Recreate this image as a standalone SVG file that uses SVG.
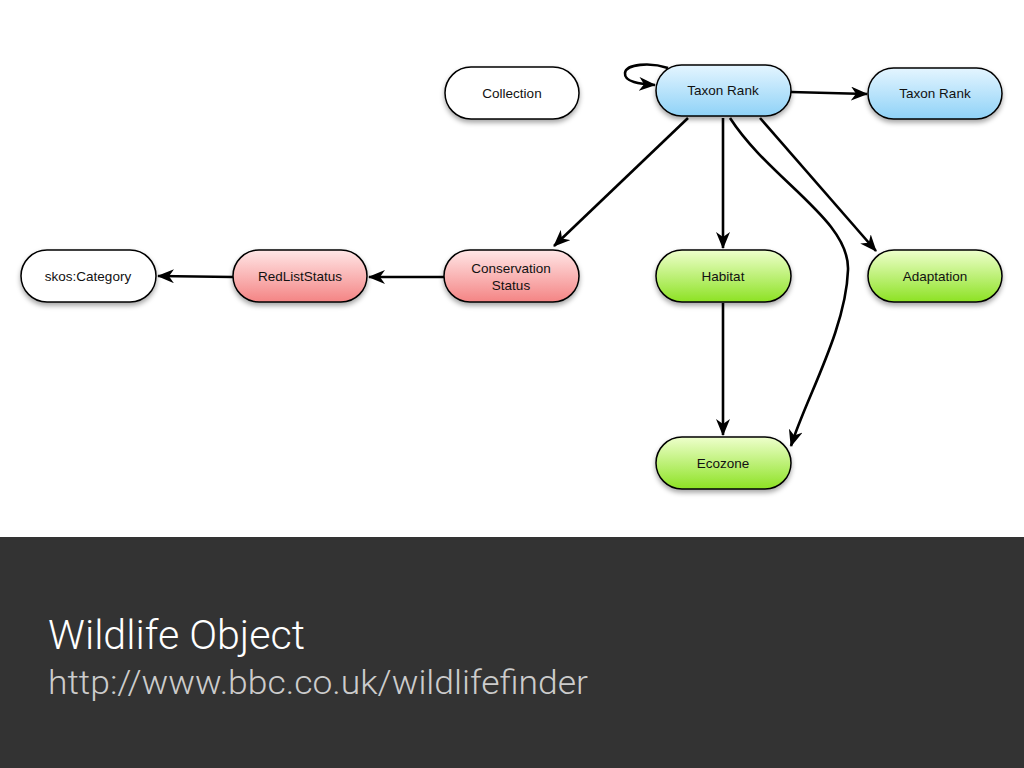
<svg xmlns="http://www.w3.org/2000/svg" width="1024" height="768" viewBox="0 0 1024 768">
<defs>
<linearGradient id="gBlue" x1="0" y1="0" x2="0" y2="1"><stop offset="0" stop-color="#e4f5ff"/><stop offset="1" stop-color="#8fd2f7"/></linearGradient>
<linearGradient id="gGreen" x1="0" y1="0" x2="0" y2="1"><stop offset="0" stop-color="#eeffcc"/><stop offset="1" stop-color="#8de224"/></linearGradient>
<linearGradient id="gRed" x1="0" y1="0" x2="0" y2="1"><stop offset="0" stop-color="#ffe6e6"/><stop offset="1" stop-color="#f48484"/></linearGradient>
<filter id="sh" x="-20%" y="-20%" width="140%" height="160%"><feDropShadow dx="0" dy="3" stdDeviation="2.5" flood-color="#000" flood-opacity="0.35"/></filter>
<marker id="ah" viewBox="0 0 17 14" refX="16" refY="7" markerWidth="17" markerHeight="14" markerUnits="userSpaceOnUse" orient="auto">
<path d="M0,0 L17,7 L0,14 L5,7 Z" fill="#000"/>
</marker>
<style>
.n{stroke:#000;stroke-width:1.5;filter:url(#sh)}
.t{font-family:"Liberation Sans",Arial,sans-serif;font-size:13.5px;fill:#111;text-anchor:middle}
.c{fill:none;stroke:#000;stroke-width:2.6;marker-end:url(#ah)}
</style>
</defs>
<rect width="1024" height="768" fill="#fff"/>
<g id="connectors">
<path class="c" d="M668,68 C650,62 626,64 625,73 C624,82 640,84 655,85"/>
<path class="c" d="M791,92 L867,94"/>
<path class="c" d="M688,118 L554,246"/>
<path class="c" d="M723,118 L723,248"/>
<path class="c" d="M760,118 L876,251"/>
<path class="c" d="M730,118 C770,180 850,220 848,270 C846,330 805,400 791,446"/>
<path class="c" d="M723,303 L723,435"/>
<path class="c" d="M444,277 L369,277"/>
<path class="c" d="M233,277 L158,276"/>
</g>
<g id="collection"><rect class="n" x="445" y="67" width="134" height="52" rx="26" fill="#fff"/><text class="t" x="512" y="98">Collection</text></g>
<g id="taxonrank1"><rect class="n" x="656" y="65" width="135" height="51" rx="25.5" fill="url(#gBlue)"/><text class="t" x="723" y="95">Taxon Rank</text></g>
<g id="taxonrank2"><rect class="n" x="868" y="68" width="134" height="51" rx="25.5" fill="url(#gBlue)"/><text class="t" x="935" y="98">Taxon Rank</text></g>
<g id="skoscategory"><rect class="n" x="21" y="250" width="135" height="52" rx="26" fill="#fff"/><text class="t" x="88" y="281">skos:Category</text></g>
<g id="redliststatus"><rect class="n" x="233" y="250" width="134" height="52" rx="26" fill="url(#gRed)"/><text class="t" x="300" y="281">RedListStatus</text></g>
<g id="conservationstatus"><rect class="n" x="444" y="250" width="135" height="52" rx="26" fill="url(#gRed)"/><text class="t" x="511" y="273">Conservation</text><text class="t" x="511" y="290">Status</text></g>
<g id="habitat"><rect class="n" x="656" y="250" width="135" height="52" rx="26" fill="url(#gGreen)"/><text class="t" x="723" y="281">Habitat</text></g>
<g id="adaptation"><rect class="n" x="868" y="250" width="134" height="52" rx="26" fill="url(#gGreen)"/><text class="t" x="935" y="281">Adaptation</text></g>
<g id="ecozone"><rect class="n" x="656" y="437" width="135" height="52" rx="26" fill="url(#gGreen)"/><text class="t" x="723" y="468">Ecozone</text></g>
<rect x="0" y="537" width="1024" height="231" fill="#333333"/>
<text x="48" y="649" font-family="Roboto,'Liberation Sans',sans-serif" font-weight="300" font-size="40" fill="#ffffff" textLength="257" lengthAdjust="spacingAndGlyphs">Wildlife Object</text>
<text x="48" y="694" font-family="Roboto,'Liberation Sans',sans-serif" font-weight="300" font-size="34" fill="#cccccc" textLength="540" lengthAdjust="spacingAndGlyphs">http://www.bbc.co.uk/wildlifefinder</text>
</svg>
